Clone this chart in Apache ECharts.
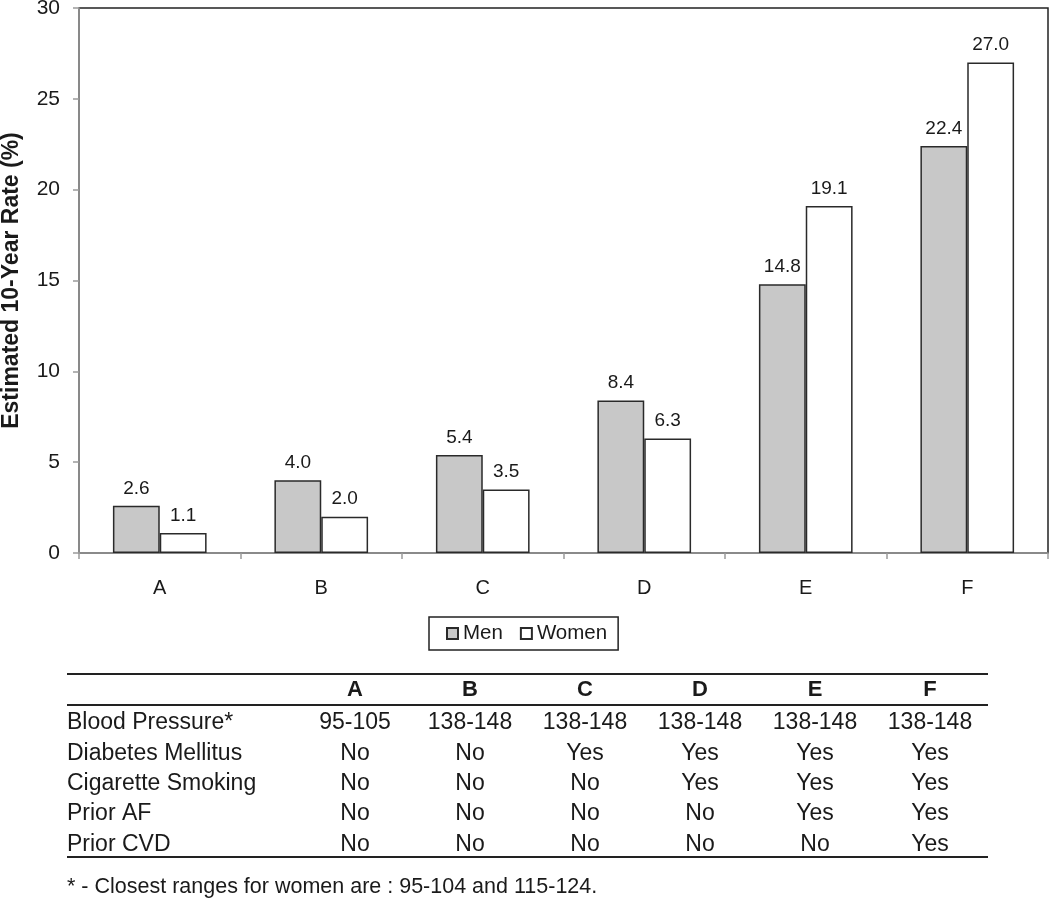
<!DOCTYPE html>
<html>
<head>
<meta charset="utf-8">
<script src="https://cdn.jsdelivr.net/npm/echarts@6/dist/echarts.min.js"></script>
<style>
html,body{margin:0;padding:0;background:#fff;}
#chart{width:1050px;height:906px;}
</style>
</head>
<body>
<div id="chart"></div>
<script>
// ---- Data ----
const categories = ['A', 'B', 'C', 'D', 'E', 'F'];
const menValues = [2.6, 4.0, 5.4, 8.4, 14.8, 22.4];
const womenValues = [1.1, 2.0, 3.5, 6.3, 19.1, 27.0];
const yTicks = [0, 5, 10, 15, 20, 25, 30];

const tableRowLabels = ['Blood Pressure*', 'Diabetes Mellitus', 'Cigarette Smoking', 'Prior AF', 'Prior CVD'];
const rowBloodPressure = ['95-105', '138-148', '138-148', '138-148', '138-148', '138-148'];
const rowDiabetes = ['No', 'No', 'Yes', 'Yes', 'Yes', 'Yes'];
const rowSmoking = ['No', 'No', 'No', 'Yes', 'Yes', 'Yes'];
const rowPriorAF = ['No', 'No', 'No', 'No', 'Yes', 'Yes'];
const rowPriorCVD = ['No', 'No', 'No', 'No', 'No', 'Yes'];
const tableRows = [rowBloodPressure, rowDiabetes, rowSmoking, rowPriorAF, rowPriorCVD];
const footnote = '* - Closest ranges for women are : 95-104 and 115-124.';

// ---- Layout ----
const FONT = 'Liberation Sans, Arial, sans-serif';
const TXT = '#1a1a1a';
const tableLeft = 67, tableRight = 988;
const colX = [355, 470, 585, 700, 815, 930];
const headerY = 690;
const rowY0 = 723, rowStep = 30.3;

const graphics = [];
function hline(y, w) {
  graphics.push({ type: 'line', shape: { x1: tableLeft, y1: y, x2: tableRight, y2: y },
    style: { stroke: '#222', lineWidth: w } });
}
hline(674, 2);
hline(705, 2);
hline(857, 2);
categories.forEach((c, i) => {
  graphics.push({ type: 'text', x: colX[i], y: headerY,
    style: { text: c, font: 'bold 22px ' + FONT, fill: TXT, textAlign: 'center', textVerticalAlign: 'middle' } });
});
tableRowLabels.forEach((lab, r) => {
  const y = rowY0 + r * rowStep;
  graphics.push({ type: 'text', x: tableLeft, y: y,
    style: { text: lab, font: '23px ' + FONT, fill: TXT, textAlign: 'left', textVerticalAlign: 'middle' } });
  tableRows[r].forEach((v, i) => {
    graphics.push({ type: 'text', x: colX[i], y: y,
      style: { text: v, font: '23px ' + FONT, fill: TXT, textAlign: 'center', textVerticalAlign: 'middle' } });
  });
});
graphics.push({ type: 'text', x: tableLeft, y: 887,
  style: { text: footnote, font: '21.5px ' + FONT, fill: TXT, textAlign: 'left', textVerticalAlign: 'middle' } });

const chart = echarts.init(document.getElementById('chart'), null, { renderer: 'canvas' });
chart.setOption({
  animation: false,
  backgroundColor: '#fff',
  textStyle: { fontFamily: FONT },
  grid: { left: 79, right: 2, top: 8, bottom: 353, outerBoundsMode: 'none', containLabel: false,
    show: true, borderColor: '#222', borderWidth: 1.5, backgroundColor: 'transparent' },
  legend: {
    data: ['Men', 'Women'],
    left: 429, top: 617,
    orient: 'horizontal',
    borderColor: '#222', borderWidth: 1.5,
    padding: [6, 11, 6, 17],
    itemWidth: 11, itemHeight: 11, itemGap: 17,
    icon: 'rect',
    textStyle: { fontSize: 20.5, color: TXT, fontFamily: FONT }
  },
  xAxis: {
    type: 'category',
    data: categories,
    axisLine: { lineStyle: { color: '#9a9a9a', width: 1.5 } },
    axisTick: { show: true, length: 6, inside: false, lineStyle: { color: '#9a9a9a', width: 1.5 } },
    axisLabel: { fontSize: 20, color: TXT, margin: 25 },
    splitLine: { show: false }
  },
  yAxis: {
    type: 'value',
    min: 0, max: 30, interval: 5,
    name: 'Estimated 10-Year Rate (%)',
    nameLocation: 'middle',
    nameGap: 56,
    nameRotate: 90,
    nameTextStyle: { fontSize: 23, fontWeight: 'bold', color: TXT },
    axisLine: { show: true, lineStyle: { color: '#9a9a9a', width: 1.5 } },
    axisTick: { show: true, length: 6, lineStyle: { color: '#9a9a9a', width: 1.5 } },
    axisLabel: { fontSize: 21, color: TXT, margin: 19,
      formatter: v => (yTicks.indexOf(v) >= 0 ? String(v) : '') },
    splitLine: { show: false }
  },
  series: [
    {
      name: 'Men', type: 'bar', data: menValues,
      barGap: '0%', barCategoryGap: '42%',
      itemStyle: { color: '#c8c8c8', borderColor: '#2a2a2a', borderWidth: 1.5 },
      label: { show: true, position: 'top', distance: 8, fontSize: 19, color: TXT,
        formatter: p => p.value.toFixed(1) }
    },
    {
      name: 'Women', type: 'bar', data: womenValues,
      itemStyle: { color: '#ffffff', borderColor: '#2a2a2a', borderWidth: 1.5 },
      label: { show: true, position: 'top', distance: 8, fontSize: 19, color: TXT,
        formatter: p => p.value.toFixed(1) }
    }
  ],
  graphic: graphics
});
</script>
</body>
</html>
